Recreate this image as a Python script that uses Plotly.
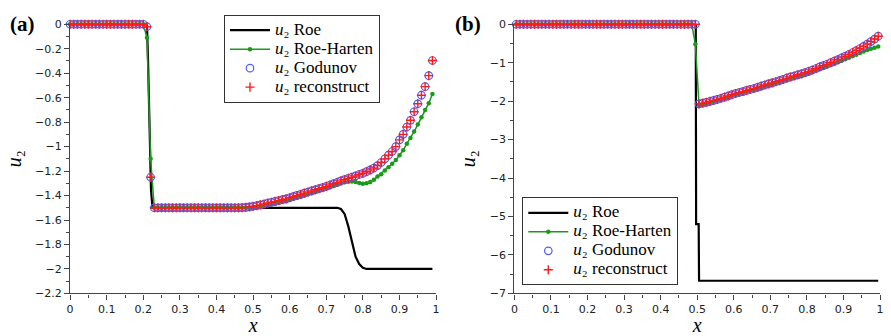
import plotly.graph_objects as go

# ---------------- Panel (a) data ----------------
xa = [i / 100 for i in range(100)]

roe_a_x = [0.0, 0.21, 0.213, 0.217, 0.221, 0.225, 0.73, 0.74, 0.75, 0.76, 0.77,
           0.78, 0.79, 0.80, 0.81, 0.82, 0.99]
roe_a_y = [0.0, 0.0, -0.3, -0.9, -1.35, -1.5, -1.5, -1.51, -1.55, -1.65, -1.78,
           -1.9, -1.96, -1.99, -2.0, -2.0, -2.0]

harten_a = ([0.0] * 21 + [-0.11, -1.10] + [-1.5] * 27 +
            [-1.497, -1.494, -1.49, -1.485, -1.479, -1.472, -1.465, -1.458, -1.451, -1.444,
             -1.436, -1.427, -1.418, -1.409, -1.40, -1.39, -1.38, -1.37, -1.36, -1.35,
             -1.34, -1.33, -1.32, -1.31, -1.30, -1.292, -1.287, -1.285, -1.29, -1.298,
             -1.303, -1.30, -1.29, -1.27, -1.244, -1.225, -1.195, -1.168, -1.14, -1.11,
             -1.07, -1.03, -0.976, -0.93, -0.877, -0.82, -0.76, -0.70, -0.645, -0.57])

godunov_a = ([0.0] * 21 + [-0.02, -1.25] + [-1.5] * 24 +
             [-1.499, -1.497, -1.493, -1.488, -1.482, -1.476, -1.469, -1.461, -1.455, -1.448,
              -1.441, -1.434, -1.427, -1.418, -1.408, -1.399, -1.39, -1.38, -1.371, -1.362,
              -1.353, -1.344, -1.335, -1.325, -1.314, -1.303, -1.292, -1.28, -1.27, -1.26,
              -1.25, -1.24, -1.228, -1.218, -1.205, -1.19, -1.175, -1.155, -1.13, -1.10,
              -1.07, -1.04, -1.0, -0.945, -0.90, -0.84, -0.785, -0.715, -0.65, -0.58,
              -0.51, -0.42, -0.296])
reconstruct_a = list(godunov_a)

# ---------------- Panel (b) data ----------------
xb = [0.005 + i / 100 for i in range(100)]

roe_b_x = [0.0, 0.496, 0.497, 0.504, 0.505, 0.995]
roe_b_y = [0.0, 0.0, -5.2, -5.2, -6.67, -6.67]

harten_b = ([0.0] * 49 + [-0.52] +
            [-2.10, -2.08, -2.06, -2.035, -2.01, -1.985, -1.955, -1.925, -1.895, -1.86,
             -1.83, -1.805, -1.78, -1.75, -1.725, -1.70, -1.67, -1.64, -1.61, -1.585,
             -1.56, -1.53, -1.50, -1.47, -1.44, -1.41, -1.385, -1.36, -1.335, -1.305,
             -1.275, -1.24, -1.205, -1.165, -1.13, -1.095, -1.06, -1.025, -0.99, -0.95,
             -0.91, -0.87, -0.83, -0.79, -0.75, -0.71, -0.67, -0.635, -0.61, -0.58])

godunov_b = ([0.0] * 50 +
             [-2.07, -2.05, -2.03, -2.005, -1.98, -1.955, -1.925, -1.895, -1.865, -1.83,
              -1.80, -1.775, -1.75, -1.72, -1.695, -1.67, -1.64, -1.61, -1.58, -1.55,
              -1.525, -1.495, -1.465, -1.435, -1.40, -1.37, -1.345, -1.315, -1.29, -1.26,
              -1.225, -1.19, -1.15, -1.11, -1.075, -1.04, -1.0, -0.96, -0.92, -0.875,
              -0.83, -0.785, -0.735, -0.685, -0.63, -0.575, -0.515, -0.45, -0.385, -0.31])
reconstruct_b = list(godunov_b)

legend_labels = ["Roe", "Roe-Harten", "Godunov", "reconstruct"]
names = ['<span style="font-size:17px"><i>u</i>₂ %s</span>' % s for s in legend_labels]

SERIF = "Liberation Serif"
SANS = "DejaVu Sans"

fig = go.Figure()


def add_panel(xs, roe_x, roe_y, harten, godunov, recon, xaxis, yaxis, legend):
    fig.add_trace(go.Scatter(x=roe_x, y=roe_y, mode="lines", name=names[0],
                             line=dict(color="black", width=2.2),
                             xaxis=xaxis, yaxis=yaxis, legend=legend, cliponaxis=False))
    fig.add_trace(go.Scatter(x=xs, y=harten, mode="lines+markers", name=names[1],
                             line=dict(color="#1a9a1a", width=1.5),
                             marker=dict(color="#1a9a1a", size=4.5, symbol="circle"),
                             xaxis=xaxis, yaxis=yaxis, legend=legend, cliponaxis=False))
    fig.add_trace(go.Scatter(x=xs, y=godunov, mode="markers", name=names[2],
                             marker=dict(color="#4a5cff", size=7.5, symbol="circle-open",
                                         line=dict(color="#4a5cff", width=1.2)),
                             xaxis=xaxis, yaxis=yaxis, legend=legend, cliponaxis=False))
    fig.add_trace(go.Scatter(x=xs, y=recon, mode="markers", name=names[3],
                             marker=dict(color="#ff1a1a", size=6.5, symbol="cross-thin",
                                         line=dict(color="#ff1a1a", width=1.4)),
                             xaxis=xaxis, yaxis=yaxis, legend=legend, cliponaxis=False))


add_panel(xa, roe_a_x, roe_a_y, harten_a, godunov_a, reconstruct_a, "x", "y", "legend")
add_panel(xb, roe_b_x, roe_b_y, harten_b, godunov_b, reconstruct_b, "x2", "y2", "legend2")

W, H = 891, 336
ydom = [1 - 299 / H, 1 - 19 / H]

axis_common = dict(showline=True, linecolor="#444", linewidth=1.3, ticks="outside",
                   ticklen=5, tickwidth=1.1, tickcolor="#444", showgrid=False, zeroline=False,
                   mirror=False, tickfont=dict(family=SANS, size=11, color="#222"))

xt = dict(axis_common, range=[0, 1], dtick=0.1, tick0=0,
          minor=dict(ticks="outside", ticklen=3, dtick=0.05, tickcolor="#444", tickwidth=1),
          title=dict(text="<i>x</i>", font=dict(family=SERIF, size=20, color="black"), standoff=2))

fig.update_layout(
    width=W, height=H,
    margin=dict(l=0, r=0, t=0, b=0),
    paper_bgcolor="white", plot_bgcolor="white",
    showlegend=True,
    xaxis=dict(xt, domain=[66.7 / W, 436 / W], anchor="y"),
    xaxis2=dict(xt, domain=[515 / W, 884 / W], anchor="y2"),
    yaxis=dict(axis_common, range=[-2.2, 0], dtick=0.2, tick0=0, domain=ydom, anchor="x",
               minor=dict(ticks="outside", ticklen=3, dtick=0.1, tickcolor="#444", tickwidth=1),
               title=dict(text="<i>u</i>₂", font=dict(family=SERIF, size=20, color="black"),
                          standoff=8)),
    yaxis2=dict(axis_common, range=[-7, 0], dtick=1, tick0=0, domain=ydom, anchor="x2",
                minor=dict(ticks="outside", ticklen=3, dtick=0.5, tickcolor="#444", tickwidth=1),
                title=dict(text="<i>u</i>₂", font=dict(family=SERIF, size=20, color="black"),
                           standoff=8)),
    legend=dict(x=222 / W, y=1 - 9 / H, xanchor="left", yanchor="top",
                bgcolor="white", bordercolor="#333", borderwidth=1,
                font=dict(family=SERIF, size=12, color="black"),
                itemwidth=40, tracegroupgap=0),
    legend2=dict(x=523 / W, y=1 - 199 / H, xanchor="left", yanchor="top",
                 bgcolor="white", bordercolor="#333", borderwidth=1,
                 font=dict(family=SERIF, size=12, color="black"),
                 itemwidth=40, tracegroupgap=0),
    annotations=[
        dict(text="<b>(a)</b>", x=4 / W, y=1 - 4 / H, xref="paper", yref="paper",
             xanchor="left", yanchor="top", showarrow=False,
             font=dict(family=SERIF, size=21, color="black")),
        dict(text="<b>(b)</b>", x=453 / W, y=1 - 4 / H, xref="paper", yref="paper",
             xanchor="left", yanchor="top", showarrow=False,
             font=dict(family=SERIF, size=21, color="black")),
    ],
)

fig.write_html("out.html")
